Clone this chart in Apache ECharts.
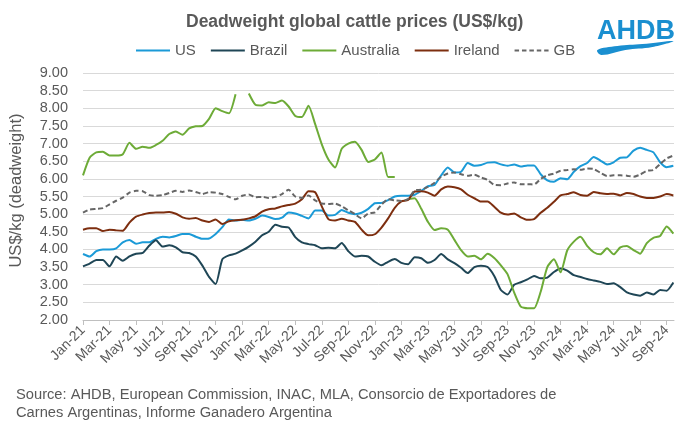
<!DOCTYPE html>
<html><head><meta charset="utf-8">
<script src="https://cdn.jsdelivr.net/npm/echarts@6/dist/echarts.min.js"></script>
<style>html,body{margin:0;padding:0;background:#fff}#c{width:676px;height:427px}</style>
</head><body><div id="c"></div>
<script>
// Month labels for the x axis (axis unit = months since Jan-21)
const monthNames = ['Jan','Feb','Mar','Apr','May','Jun','Jul','Aug','Sep','Oct','Nov','Dec'];
const firstYear = 21;
const stepMonths = 0.5;           // readings are half-monthly
const lastMonth = 44.55;          // axis ends mid Sep-24
const tickMonths = [0,2,4,6,8,10,12,14,16,18,20,22,24,26,28,30,32,34,36,38,40,42,44];

const seriesNames = ['US','Brazil','Australia','Ireland','GB'];

const us = [3.87,3.80,3.95,4.00,4.00,4.03,4.20,4.27,4.16,4.20,4.20,4.30,4.36,4.34,4.38,4.44,4.44,4.36,4.30,4.31,4.44,4.63,4.85,
  4.82,4.84,4.82,4.87,4.96,4.92,4.86,4.90,5.05,5.02,4.95,4.88,5.10,5.10,4.96,4.98,5.12,5.04,5.00,5.04,5.15,5.31,
  5.32,5.40,5.50,5.52,5.52,5.55,5.66,5.79,5.83,6.10,6.32,6.18,6.20,6.45,6.37,6.39,6.46,6.47,6.41,6.37,6.41,6.35,
  6.38,6.38,6.13,5.96,5.92,6.02,5.99,6.20,6.36,6.45,6.62,6.52,6.41,6.47,6.60,6.61,6.80,6.88,6.82,6.75,6.47,6.33,6.37];

const brazil = [3.52,3.60,3.70,3.70,3.52,3.80,3.68,3.80,3.88,3.90,4.11,4.26,4.08,4.12,4.06,3.92,3.90,3.80,3.54,3.22,3.02,3.72,3.83,
  3.88,3.97,4.08,4.22,4.40,4.50,4.70,4.64,4.62,4.35,4.20,4.15,4.12,4.03,4.05,4.03,4.18,3.95,3.80,3.82,3.80,3.65,
  3.55,3.65,3.73,3.62,3.58,3.78,3.75,3.62,3.70,3.87,3.72,3.61,3.48,3.33,3.50,3.54,3.50,3.25,2.85,2.72,3.00,3.07,
  3.15,3.25,3.18,3.20,3.36,3.46,3.40,3.27,3.22,3.16,3.12,3.08,3.02,3.04,2.93,2.78,2.72,2.69,2.78,2.72,2.85,2.83,3.06];

const australia = [6.10,6.60,6.75,6.77,6.66,6.66,6.70,7.02,6.85,6.91,6.88,6.96,7.08,7.27,7.34,7.25,7.43,7.49,7.50,7.70,8.00,7.92,7.86,
  8.40,null,8.42,8.10,8.08,8.17,8.15,8.22,8.05,7.78,7.75,8.07,7.55,6.98,6.55,6.32,6.85,7.00,7.05,6.82,6.48,6.55,
  6.75,6.05,6.05,null,5.42,5.45,5.15,4.78,4.55,4.60,4.56,4.27,3.98,3.80,3.82,3.72,3.88,3.76,3.55,3.30,2.78,2.38,
  2.33,2.33,2.80,3.50,3.72,3.35,3.97,4.22,4.36,4.10,3.92,3.86,4.03,3.86,4.06,4.10,3.98,3.88,4.18,4.33,4.38,4.65,4.45];

const ireland = [4.56,4.60,4.60,4.52,4.56,4.54,4.53,4.76,4.93,4.99,5.03,5.05,5.05,5.06,5.01,4.91,4.87,4.89,4.82,4.78,4.85,4.72,4.80,
  4.83,4.84,4.88,4.94,5.07,5.14,5.16,5.22,5.26,5.30,5.42,5.65,5.62,5.22,4.86,4.82,4.87,4.82,4.78,4.56,4.40,4.43,
  4.62,4.88,5.18,5.36,5.40,5.64,5.65,5.61,5.52,5.70,5.78,5.76,5.70,5.55,5.45,5.36,5.36,5.21,5.04,4.99,5.02,4.91,
  4.84,4.86,5.04,5.18,5.35,5.53,5.57,5.62,5.54,5.52,5.63,5.59,5.57,5.58,5.53,5.60,5.57,5.50,5.46,5.46,5.50,5.57,5.53];

const gb = [5.04,5.13,5.15,5.17,5.28,5.38,5.47,5.61,5.66,5.65,5.54,5.52,5.54,5.60,5.66,5.63,5.67,5.63,5.57,5.62,5.61,5.57,5.49,
  5.42,5.52,5.56,5.48,5.49,5.46,5.49,5.57,5.69,5.50,5.46,5.53,5.39,5.30,5.29,5.30,5.22,5.11,5.00,4.88,5.02,5.05,
  5.27,5.42,5.39,5.37,5.43,5.67,5.69,5.77,5.89,6.06,6.15,6.18,6.13,6.09,6.12,6.04,5.97,5.83,5.82,5.87,5.90,5.85,
  5.85,5.84,6.00,6.10,6.15,6.23,6.25,6.27,6.26,6.29,6.28,6.17,6.08,6.10,6.10,6.09,6.06,6.12,6.23,6.25,6.42,6.58,6.66];

const seriesValues = [us, brazil, australia, ireland, gb];
const colors = ['#1b9ad7','#1f4656','#6dab37','#7d2e0f','#666666'];

function toPairs(arr){ return arr.map((v,i)=>[i*stepMonths, v === null ? '-' : v]); }
function monthLabel(m){
  if (Math.abs(m - Math.round(m)) > 1e-6) return '';
  const r = Math.round(m);
  return monthNames[r % 12] + '-' + (firstYear + Math.floor(r/12));
}

const solidIcon = 'rect';
const dashIcon = 'path://M0 0h4.5v2H0z M7.4 0h4.5v2H7.4z M14.8 0h4.5v2h-4.5z M22.2 0h4.5v2h-4.5z M29.6 0h4.4v2h-4.4z';

const chart = echarts.init(document.getElementById('c'), null, {renderer:'canvas'});
const textColor = '#595959';
chart.setOption({
  animation:false,
  backgroundColor:'#ffffff',
  color: colors,
  title:{
    text:'Deadweight global cattle prices (US$/kg)',
    left:181, top:8,
    textStyle:{fontFamily:'Liberation Sans', fontSize:17.5, fontWeight:'bold', color:textColor}
  },
  legend:{
    data: seriesNames.map(n => ({name:n, icon: n==='GB' ? dashIcon : solidIcon})),
    left:131, top:38,
    itemWidth:34, itemHeight:2.2, itemGap:15,
    textStyle:{fontFamily:'Liberation Sans', fontSize:15, color:textColor}
  },
  grid:{left:79, right:2, top:73, bottom:107, containLabel:false},
  xAxis:{
    type:'value', min:0, max:lastMonth, interval:2,
    axisLine:{show:true, lineStyle:{color:'#bfbfbf', width:1}},
    axisTick:{show:true, length:5, customValues: tickMonths, lineStyle:{color:'#bfbfbf'}},
    splitLine:{show:false},
    axisLabel:{
      customValues: tickMonths,
      rotate:45, margin:8,
      fontFamily:'Liberation Sans', fontSize:14, color:textColor,
      formatter: v => monthLabel(v)
    }
  },
  yAxis:{
    type:'value', min:2, max:9, interval:0.5,
    name:'US$/kg (deadweight)', nameLocation:'middle', nameGap:58,
    nameTextStyle:{fontFamily:'Liberation Sans', fontSize:16.5, color:textColor, padding:[0,0,0,12]},
    axisLine:{show:false}, axisTick:{show:false},
    splitLine:{show:true, lineStyle:{color:'#d9d9d9', width:1}},
    axisLabel:{
      margin:15,
      fontFamily:'Liberation Sans', fontSize:14.5, color:textColor,
      formatter: v => v.toFixed(2)
    }
  },
  series: seriesNames.map((n,k)=>({
    name:n, type:'line', data: toPairs(seriesValues[k]),
    symbol:'none', smooth:0.2, connectNulls:false,
    lineStyle:{width:2, color:colors[k], type: n==='GB' ? [5,3] : 'solid'},
    itemStyle:{color:colors[k]},
    z: n==='GB' ? 5 : 3
  })),
  graphic:[
    {type:'text', left:597, top:18,
     style:{text:'AHDB', fill:'#1a8fd0', font:'bold 27px "Liberation Sans"'}},
    {type:'polygon', left:597, top:41,
     shape:{points:[[0,9],[20,5],[45,3],[76,0],[55,6],[28,9],[4,14]], smooth:0.4},
     style:{fill:'#1a8fd0'}},
    {type:'text', left:16, top:386,
     style:{text:'Source: AHDB, European Commission, INAC, MLA, Consorcio de Exportadores de\nCarnes Argentinas, Informe Ganadero Argentina',
       fill:textColor, font:'14.7px "Liberation Sans"', lineHeight:18}}
  ]
});
</script></body></html>
